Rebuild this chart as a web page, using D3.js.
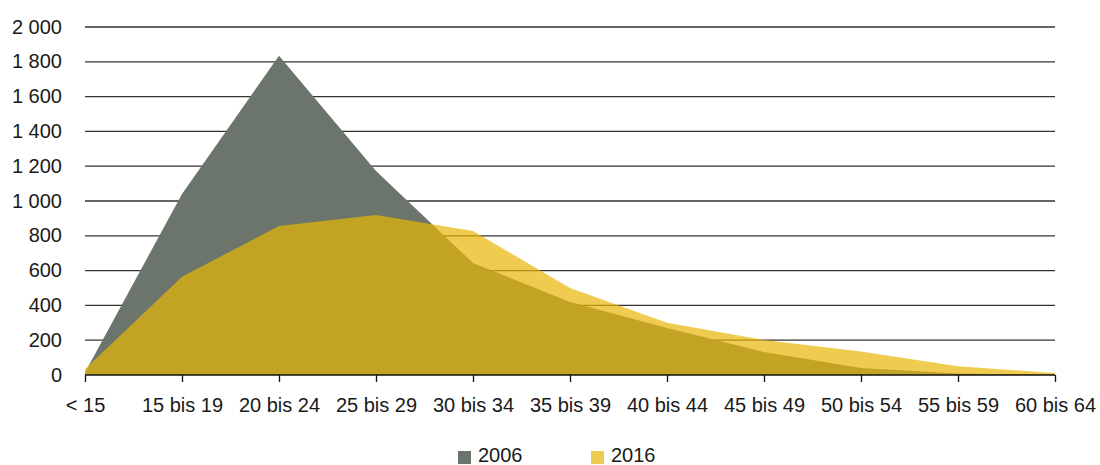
<!DOCTYPE html>
<html><head><meta charset="utf-8">
<script src="https://cdn.jsdelivr.net/npm/d3@7"></script>
<style>body{margin:0;background:#fff}svg{display:block}text{font-family:"Liberation Sans",Arial,sans-serif;fill:#1a1a1a}</style>
</head><body><svg id="c" width="1100" height="465"></svg>
<script>
const categories = ["< 15","15 bis 19","20 bis 24","25 bis 29","30 bis 34","35 bis 39","40 bis 44","45 bis 49","50 bis 54","55 bis 59","60 bis 64"];
const values2006 = [15,1040,1835,1172,644,420,270,132,40,8,3];
const values2016 = [35,565,856,920,828,500,300,201,135,50,12];
const yTicks = [0,200,400,600,800,1000,1200,1400,1600,1800,2000];
const seriesNames = ["2006","2016"];

const FONT = '"Liberation Sans",Arial,sans-serif';
const svg = d3.select("#c");
const x = d3.scalePoint().domain(categories).range([85,1055]);
const y = d3.scaleLinear().domain([0,2000]).range([375,27]);
const fmt = v => d3.format(",")(v).replace(/,/g," ");

// gridlines
svg.append("g").selectAll("line").data(yTicks.filter(d=>d>0)).join("line")
  .attr("x1",85).attr("x2",1055).attr("y1",d=>y(d)).attr("y2",d=>y(d))
  .attr("stroke","#333").attr("stroke-width",1.3);

const area = d3.area().x((d,i)=>x(categories[i])).y0(y(0)).y1(d=>y(d));
svg.append("path").datum(values2006).attr("d",area).attr("fill","#6b756b");
svg.append("path").datum(values2016).attr("d",area).attr("fill","#e8b605").attr("fill-opacity",0.7);

// y labels
const yAxis = d3.axisLeft(y).tickValues(yTicks).tickFormat(fmt).tickSize(0).tickPadding(0);
const gy = svg.append("g").attr("transform","translate(62,0)").call(yAxis);
gy.select(".domain").remove();
gy.selectAll("text").attr("font-size",20).attr("font-family",FONT).attr("fill","#1a1a1a").attr("dy","0.3em");

// x axis
const xAxis = d3.axisBottom(x).tickSize(7).tickPadding(16);
const gx = svg.append("g").attr("transform","translate(0,375)").call(xAxis);
gx.select(".domain").attr("d","M85,0H1055").attr("stroke","#111").attr("stroke-width",1.3);
gx.selectAll(".tick line").attr("stroke","#111").attr("stroke-width",1.3);
gx.selectAll("text").attr("font-size",20).attr("font-family",FONT).attr("fill","#1a1a1a");

// legend
const legend = svg.append("g");
const lx = [458,591];
const lcol = [["#6b756b",1],["#e8b605",0.7]];
seriesNames.forEach((n,i)=>{
  legend.append("rect").attr("x",lx[i]).attr("y",451).attr("width",13).attr("height",13)
    .attr("fill",lcol[i][0]).attr("fill-opacity",lcol[i][1]);
  legend.append("text").attr("x",lx[i]+20).attr("y",462).attr("font-size",20).text(n);
});
</script></body></html>
